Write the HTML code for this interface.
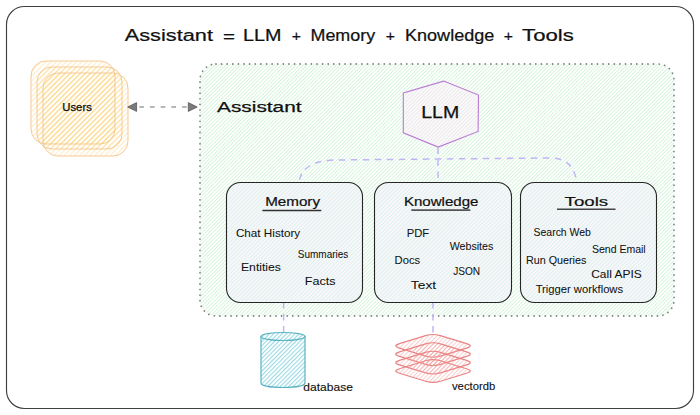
<!DOCTYPE html>
<html><head><meta charset="utf-8">
<style>
html,body{margin:0;padding:0;background:#fff;width:700px;height:415px;overflow:hidden}
svg{display:block}
text{font-family:"Liberation Sans",sans-serif;fill:#111;stroke:#111;stroke-width:0.22px}
text.it{stroke-width:0.05px}
text.hd{stroke-width:0.2px}
text.lb{stroke-width:0.25px}
text.sm{stroke-width:0.12px}
</style></head><body>
<svg width="700" height="415" viewBox="0 0 700 415">
<defs>
<pattern id="hg" patternUnits="userSpaceOnUse" width="20" height="2.6" patternTransform="rotate(-45)">
<rect width="20" height="2.6" fill="#fff"/><rect y="0" width="20" height="0.75" fill="#cbf2d3"/>
</pattern>
<pattern id="hbox" patternUnits="userSpaceOnUse" width="20" height="2.8" patternTransform="rotate(-45)">
<rect width="20" height="2.8" fill="#f7f5fd"/><rect y="0" width="20" height="0.85" fill="#dcf3e3"/>
</pattern>
<pattern id="ho" patternUnits="userSpaceOnUse" width="20" height="3.6" patternTransform="rotate(-45)">
<rect y="0" width="20" height="1.2" fill="#fbcb60" fill-opacity="0.34"/>
</pattern>
<pattern id="hh" patternUnits="userSpaceOnUse" width="20" height="2.6" patternTransform="rotate(-45)">
<rect width="20" height="2.6" fill="#fbfafb"/><rect y="0" width="20" height="0.85" fill="#ebe7ea"/>
</pattern>
<pattern id="ht" patternUnits="userSpaceOnUse" width="20" height="3" patternTransform="rotate(-45)">
<rect width="20" height="3" fill="#ffffff"/><rect y="0" width="20" height="1.1" fill="#9bd9e3"/>
</pattern>
<pattern id="hr" patternUnits="userSpaceOnUse" width="20" height="3" patternTransform="rotate(-45)">
<rect y="0" width="20" height="1" fill="#f5a0a0" fill-opacity="0.5"/>
</pattern>
</defs>

<!-- outer frame -->
<rect x="6.5" y="6.5" width="687" height="402" rx="18" fill="none" stroke="#404040" stroke-width="1.15"/>

<!-- title -->
<text x="124.75" y="41.20" font-size="16" textLength="88.21" lengthAdjust="spacingAndGlyphs">Assistant</text>
<text x="223.03" y="42.00" font-size="14" textLength="11.98" lengthAdjust="spacingAndGlyphs">=</text>
<text x="242.97" y="41.20" font-size="16" textLength="38.36" lengthAdjust="spacingAndGlyphs">LLM</text>
<text x="291.85" y="41.40" font-size="15" textLength="9.22" lengthAdjust="spacingAndGlyphs">+</text>
<text x="310.52" y="41.20" font-size="16" textLength="64.60" lengthAdjust="spacingAndGlyphs">Memory</text>
<text x="385.85" y="41.40" font-size="15" textLength="9.22" lengthAdjust="spacingAndGlyphs">+</text>
<text x="405.01" y="41.20" font-size="16" textLength="89.27" lengthAdjust="spacingAndGlyphs">Knowledge</text>
<text x="503.85" y="41.40" font-size="15" textLength="9.22" lengthAdjust="spacingAndGlyphs">+</text>
<text x="522.10" y="41.20" font-size="16" textLength="51.66" lengthAdjust="spacingAndGlyphs">Tools</text>

<!-- users stack -->
<g stroke="#f5c996" stroke-width="1">
<rect x="31" y="61" width="84" height="83" rx="15" fill="url(#ho)"/>
<rect x="37" y="67" width="85" height="82" rx="15" fill="url(#ho)"/>
<rect x="43" y="73" width="85" height="83" rx="15" fill="url(#ho)"/>
</g>
<text x="62.33" y="111.00" font-size="10" textLength="29.46" lengthAdjust="spacingAndGlyphs" class="lb">Users</text>

<!-- arrow -->
<line x1="139.3" y1="107" x2="187" y2="107" stroke="#6e6e6e" stroke-width="1.2" stroke-dasharray="4.6,6.1"/>
<polygon points="127.7,107 136.6,102.6 136.6,111.4" fill="#7a7a7a" stroke="#5a5a5a" stroke-width="0.8" stroke-linejoin="round"/>
<polygon points="197.2,107 188.3,102.6 188.3,111.4" fill="#7a7a7a" stroke="#5a5a5a" stroke-width="0.8" stroke-linejoin="round"/>

<!-- assistant container -->
<rect x="200" y="64" width="474" height="252" rx="16" fill="url(#hg)" stroke="#858585" stroke-width="1.8" stroke-dasharray="0.01,5.6" stroke-linecap="round"/>
<text x="217.05" y="111.70" font-size="14" textLength="84.50" lengthAdjust="spacingAndGlyphs" class="lb">Assistant</text>

<!-- connectors -->
<g fill="none" stroke="#c2b5f6" stroke-width="1.5" stroke-dasharray="6.5,5.5">
<path d="M438 147.5 L438 183"/>
<path d="M299.5 180 C302 168 312 161 335 160 L438 159 L550 158 C566 158 573 166 576 178"/>
<path d="M283.6 302 L283.6 333"/>
<path d="M433 302 L433 333"/>
</g>

<!-- LLM hexagon -->
<polygon points="443.7,81.1 478.5,95.1 478.1,131.4 438.2,147.1 403.3,132.8 403.3,93" fill="url(#hh)" stroke="#bb7ad4" stroke-width="1.1"/>
<text x="421.19" y="118.00" font-size="17" textLength="38.03" lengthAdjust="spacingAndGlyphs" class="lb">LLM</text>

<!-- boxes -->
<g fill="url(#hbox)" stroke="#262626" stroke-width="1.1">
<rect x="226.5" y="182.5" width="136" height="120" rx="14"/>
<rect x="374.5" y="182.5" width="137" height="120" rx="14"/>
<rect x="520.5" y="182.5" width="136" height="120" rx="14"/>
</g>

<text x="265.15" y="206.00" font-size="13" textLength="54.87" lengthAdjust="spacingAndGlyphs" class="hd">Memory</text>
<text x="403.96" y="206.20" font-size="13" textLength="74.50" lengthAdjust="spacingAndGlyphs" class="hd">Knowledge</text>
<text x="564.58" y="205.50" font-size="13" textLength="43.56" lengthAdjust="spacingAndGlyphs" class="hd">Tools</text>
<line x1="262.4" y1="210.5" x2="321.3" y2="210.5" stroke="#333" stroke-width="1.5"/>
<line x1="411.3" y1="210.1" x2="470.3" y2="210.1" stroke="#555" stroke-width="1.6"/>
<line x1="557" y1="209.2" x2="615.5" y2="209.2" stroke="#444" stroke-width="1.6"/>

<text x="235.92" y="237.10" font-size="10.2" textLength="64.30" lengthAdjust="spacingAndGlyphs" class="it">Chat History</text>
<text x="297.85" y="258.00" font-size="10.2" textLength="50.49" lengthAdjust="spacingAndGlyphs" class="it">Summaries</text>
<text x="241.00" y="270.50" font-size="10.2" textLength="39.92" lengthAdjust="spacingAndGlyphs" class="it">Entities</text>
<text x="304.76" y="285.40" font-size="10.2" textLength="30.67" lengthAdjust="spacingAndGlyphs" class="it">Facts</text>
<text x="406.67" y="236.60" font-size="10.2" textLength="22.48" lengthAdjust="spacingAndGlyphs" class="it">PDF</text>
<text x="449.65" y="249.80" font-size="10.2" textLength="43.72" lengthAdjust="spacingAndGlyphs" class="it">Websites</text>
<text x="394.58" y="263.70" font-size="10.2" textLength="25.53" lengthAdjust="spacingAndGlyphs" class="it">Docs</text>
<text x="453.15" y="275.10" font-size="10.2" textLength="26.98" lengthAdjust="spacingAndGlyphs" class="it">JSON</text>
<text x="410.89" y="289.20" font-size="10.2" textLength="25.23" lengthAdjust="spacingAndGlyphs" class="it">Text</text>
<text x="533.53" y="236.40" font-size="10.2" textLength="57.41" lengthAdjust="spacingAndGlyphs" class="it">Search Web</text>
<text x="591.93" y="252.80" font-size="10.2" textLength="53.77" lengthAdjust="spacingAndGlyphs" class="it">Send Email</text>
<text x="525.91" y="264.00" font-size="10.2" textLength="60.45" lengthAdjust="spacingAndGlyphs" class="it">Run Queries</text>
<text x="591.20" y="277.90" font-size="10.2" textLength="50.53" lengthAdjust="spacingAndGlyphs" class="it">Call APIS</text>
<text x="535.65" y="292.90" font-size="10.2" textLength="87.45" lengthAdjust="spacingAndGlyphs" class="it">Trigger workflows</text>

<!-- database cylinder -->
<path d="M261 336 L261 383 C261 389 305 389 305 383 L305 336" fill="url(#ht)" stroke="#5bb3c2" stroke-width="1.2"/>
<ellipse cx="283" cy="336.5" rx="22" ry="4" fill="url(#ht)" stroke="#5bb3c2" stroke-width="1.2"/>
<text x="303.39" y="390.80" font-size="10.5" textLength="49.55" lengthAdjust="spacingAndGlyphs" class="sm">database</text>

<!-- vectordb stack -->
<g fill="url(#hr)" stroke="#e98484" stroke-width="1.1" stroke-linejoin="round">
<path d="M425.6 335.6Q433.0 333.3 440.4 335.6L466.6 343.6Q474.0 345.8 466.6 348.1L440.4 356.1Q433.0 358.3 425.6 356.1L399.4 348.1Q392.0 345.8 399.4 343.6Z"/>
<path d="M425.6 343.9Q433.0 341.7 440.4 343.9L466.6 351.9Q474.0 354.2 466.6 356.4L440.4 364.4Q433.0 366.7 425.6 364.4L399.4 356.4Q392.0 354.2 399.4 351.9Z"/>
<path d="M425.6 352.4Q433.0 350.1 440.4 352.4L466.6 360.4Q474.0 362.6 466.6 364.9L440.4 372.9Q433.0 375.1 425.6 372.9L399.4 364.9Q392.0 362.6 399.4 360.4Z"/>
<path d="M425.6 360.8Q433.0 358.5 440.4 360.8L466.6 368.8Q474.0 371.0 466.6 373.2L440.4 381.2Q433.0 383.5 425.6 381.2L399.4 373.2Q392.0 371.0 399.4 368.8Z"/>
</g>
<text x="451.97" y="389.90" font-size="10.5" textLength="43.29" lengthAdjust="spacingAndGlyphs" class="sm">vectordb</text>

</svg>
</body></html>
